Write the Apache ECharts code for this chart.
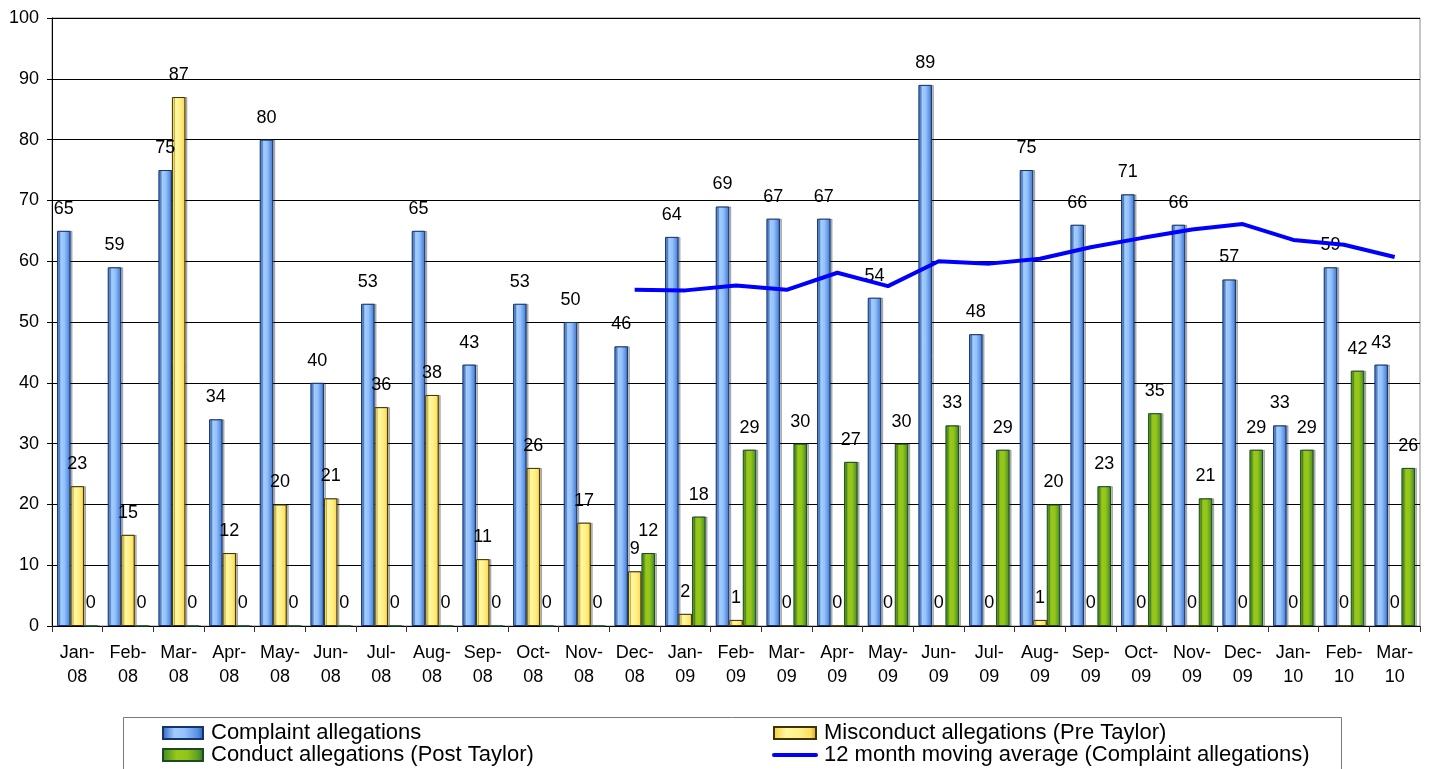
<!DOCTYPE html>
<html>
<head>
<meta charset="utf-8">
<title>Complaint and conduct allegations, Jan-08 to Mar-10</title>
<script src="https://cdn.jsdelivr.net/npm/echarts@6/dist/echarts.min.js"></script>
<style>
  html, body { margin: 0; padding: 0; background: #ffffff; }
  #chart { width: 1432px; height: 769px; }
</style>
</head>
<body>
<div id="chart"></div>
<script>
// Monthly categories
const categories = [
  'Jan-08', 'Feb-08', 'Mar-08', 'Apr-08', 'May-08', 'Jun-08', 'Jul-08', 'Aug-08', 'Sep-08',
  'Oct-08', 'Nov-08', 'Dec-08', 'Jan-09', 'Feb-09', 'Mar-09', 'Apr-09', 'May-09', 'Jun-09',
  'Jul-09', 'Aug-09', 'Sep-09', 'Oct-09', 'Nov-09', 'Dec-09', 'Jan-10', 'Feb-10', 'Mar-10'
];

// Series values
const complaintAllegations = [
  65, 59, 75, 34, 80, 40, 53, 65, 43, 53, 50, 46,
  64, 69, 67, 67, 54, 89, 48, 75, 66, 71, 66, 57,
  33, 59, 43
];
const misconductPreTaylor = [
  23, 15, 87, 12, 20, 21, 36, 38, 11, 26, 17, 9,
  2, 1, 0, 0, 0, 0, 0, 1, 0, 0, 0, 0,
  0, 0, 0
];
const conductPostTaylor = [
  0, 0, 0, 0, 0, 0, 0, 0, 0, 0, 0, 12,
  18, 29, 30, 27, 30, 33, 29, 20, 23, 35, 21, 29,
  29, 42, 26
];
const movingAverage12 = [
  null, null, null, null, null, null, null, null, null, null, null, 55.3,
  55.2, 56.0, 55.3, 58.1, 55.9, 60.0, 59.6, 60.4, 62.3, 63.8, 65.2, 66.1,
  63.5, 62.7, 60.7
];

// Value axis ticks
const yMin = 0;
const yMax = 100;
const yStep = 10;

const seriesNames = [
  'Complaint allegations',
  'Misconduct allegations (Pre Taylor)',
  'Conduct allegations (Post Taylor)',
  '12 month moving average (Complaint allegations)'
];

const FONT = '"Liberation Sans", Arial, sans-serif';

function hGradient(stops) {
  return new echarts.graphic.LinearGradient(0, 0, 1, 0,
    stops.map(s => ({ offset: s[0], color: s[1] })));
}

const blueFill = hGradient([[0, '#2d63c4'], [0.3, '#a3cdff'], [0.55, '#93c1fb'], [0.85, '#5a8fe0'], [1, '#2a5cb8']]);
const yellowFill = hGradient([[0, '#f2cf3a'], [0.3, '#fff7a0'], [0.6, '#fff08a'], [0.85, '#ffe060'], [1, '#c9a020']]);
const greenFill = hGradient([[0, '#3c8a24'], [0.35, '#98c81a'], [0.6, '#93c41a'], [0.85, '#5fa020'], [1, '#2c7430']]);

const barLabel = {
  show: true,
  position: 'top',
  distance: 13,
  color: '#000',
  fontFamily: FONT,
  fontSize: 18
};

function barSeries(name, data, fill, border) {
  return {
    name: name,
    type: 'bar',
    data: data,
    barGap: '0%',
    barCategoryGap: '20%',
    itemStyle: {
      color: fill,
      borderColor: border,
      borderWidth: 1,
      shadowColor: 'rgba(0,0,0,0.25)',
      shadowOffsetX: 2,
      shadowOffsetY: 0,
      shadowBlur: 0
    },
    label: barLabel,
    emphasis: { disabled: true },
    z: 2
  };
}

const legendText = {
  color: '#000',
  fontFamily: FONT,
  fontSize: 22,
  lineHeight: 22,
  padding: [0, 0, 0, 3]
};

const chart = echarts.init(document.getElementById('chart'), null, { renderer: 'canvas' });

chart.setOption({
  animation: false,
  backgroundColor: '#ffffff',
  textStyle: { fontFamily: FONT },
  grid: {
    left: 52,
    right: 12,
    top: 18,
    bottom: 143,
    show: true,
    borderColor: '#8c8c8c',
    borderWidth: 1,
    backgroundColor: 'transparent'
  },
  xAxis: {
    type: 'category',
    data: categories,
    boundaryGap: true,
    axisLine: { show: true, lineStyle: { color: '#000', width: 1 } },
    axisTick: { show: true, alignWithLabel: false, length: 6, lineStyle: { color: '#333' } },
    axisLabel: {
      interval: 0,
      margin: 15,
      color: '#000',
      fontFamily: FONT,
      fontSize: 18,
      lineHeight: 24,
      formatter: v => v.replace('-', '-\n')
    },
    splitLine: { show: false }
  },
  yAxis: {
    type: 'value',
    min: yMin,
    max: yMax,
    interval: yStep,
    axisLine: { show: true, lineStyle: { color: '#000', width: 1 } },
    axisTick: { show: true, inside: false, length: 5, lineStyle: { color: '#000' } },
    axisLabel: {
      margin: 13,
      color: '#000',
      fontFamily: FONT,
      fontSize: 18
    },
    splitLine: { show: true, lineStyle: { color: '#000', width: 1 } }
  },
  legend: [
    {
      data: [
        { name: seriesNames[0], icon: 'rect' },
        { name: seriesNames[2], icon: 'rect' }
      ],
      orient: 'vertical',
      left: 162,
      top: 722,
      padding: 0,
      height: 60,
      itemWidth: 40,
      itemHeight: 12,
      itemGap: 0,
      selectedMode: false,
      textStyle: legendText
    },
    {
      data: [
        { name: seriesNames[1], icon: 'rect' },
        { name: seriesNames[3], itemStyle: { opacity: 0 }, lineStyle: { width: 4, color: '#0000ff', cap: 'round' } }
      ],
      orient: 'vertical',
      left: 772,
      top: 722,
      padding: 0,
      height: 60,
      itemWidth: 42,
      itemHeight: 12,
      itemGap: 0,
      selectedMode: false,
      textStyle: legendText
    }
  ],
  graphic: [
    {
      type: 'rect',
      left: 123,
      top: 717,
      shape: { width: 1218, height: 70 },
      style: { fill: '#ffffff', stroke: '#7a7a7a', lineWidth: 1 },
      z: -1,
      silent: true
    }
  ],
  series: [
    barSeries(seriesNames[0], complaintAllegations, blueFill, '#14346e'),
    barSeries(seriesNames[1], misconductPreTaylor, yellowFill, '#3d3200'),
    barSeries(seriesNames[2], conductPostTaylor, greenFill, '#1c4a26'),
    {
      name: seriesNames[3],
      type: 'line',
      data: movingAverage12,
      symbol: 'none',
      showSymbol: false,
      connectNulls: false,
      lineStyle: { color: '#0000ff', width: 4 },
      itemStyle: { color: '#0000ff' },
      emphasis: { disabled: true },
      z: 5
    }
  ]
});
</script>
</body>
</html>
